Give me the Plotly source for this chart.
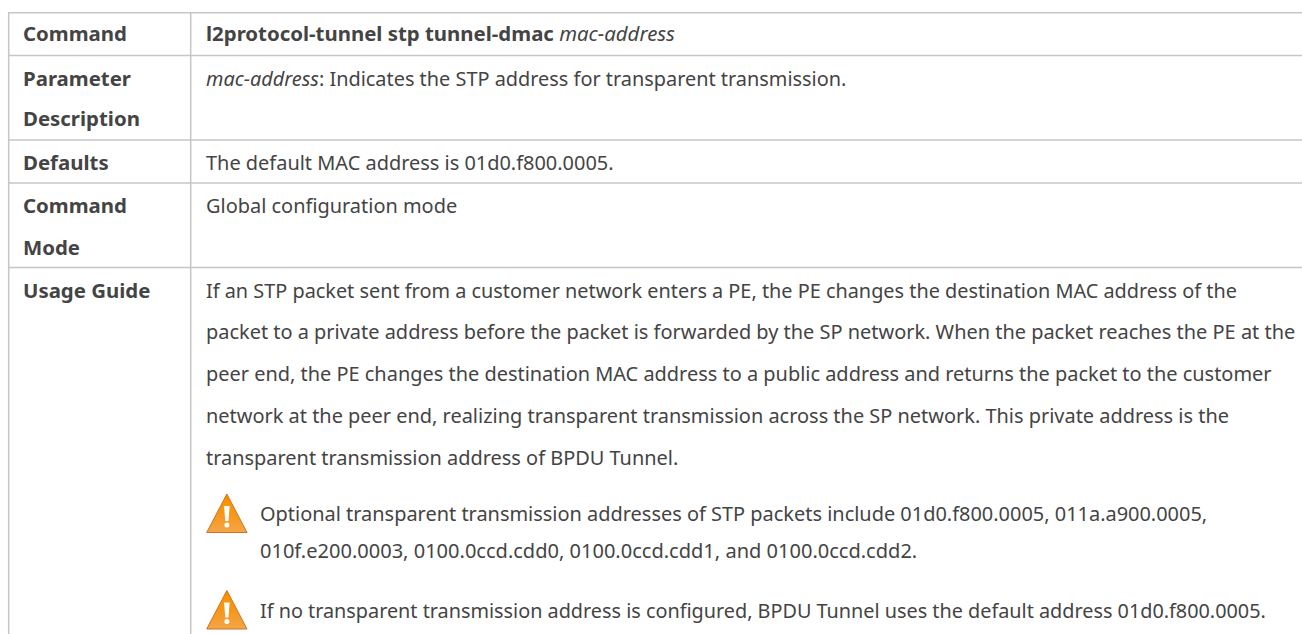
import plotly.graph_objects as go

# ---- content ----
row_labels = ["Command", "Parameter", "Description", "Defaults", "Command", "Mode", "Usage Guide"]
row_label_y = [33, 78, 118, 162, 205, 247, 290]
body_lines = [
    "<b>l2protocol-tunnel stp tunnel-dmac</b> <i>mac-address</i>",
    "<i>mac-address</i>: Indicates the STP address for transparent transmission.",
    "The default MAC address is 01d0.f800.0005.",
    "Global configuration mode",
    "If an STP packet sent from a customer network enters a PE, the PE changes the destination MAC address of the",
    "packet to a private address before the packet is forwarded by the SP network. When the packet reaches the PE at the",
    "peer end, the PE changes the destination MAC address to a public address and returns the packet to the customer",
    "network at the peer end, realizing transparent transmission across the SP network. This private address is the",
    "transparent transmission address of BPDU Tunnel.",
]
body_y = [33, 78, 162, 205, 290, 331, 373, 415, 457]
body_size = [20.4, 19.9, 19.95, 19.95, 19.88, 19.95, 19.95, 19.95, 19.95]
note_lines = [
    "Optional transparent transmission addresses of STP packets include 01d0.f800.0005, 011a.a900.0005,",
    "010f.e200.0003, 0100.0ccd.cdd0, 0100.0ccd.cdd1, and 0100.0ccd.cdd2.",
    "If no transparent transmission address is configured, BPDU Tunnel uses the default address 01d0.f800.0005.",
]
note_y = [513, 550, 610]
note_size = [19.95, 20.05, 19.82]
h_rules = [12.7, 55.4, 140, 183, 267.5]
v_rules = [8.7, 190.7]
icon_tops = [494, 590.5]

FONT = "Noto Sans"
BOLD_SIZE = 20.4
TEXT = "#444444"
RULE = "#c6c6c6"
PAD = 2

fig = go.Figure()
for y in h_rules:
    fig.add_shape(type="line", x0=8, x1=1302, y0=y, y1=y, line=dict(color=RULE, width=1.5), layer="below")
for x in v_rules:
    fig.add_shape(type="line", x0=x, x1=x, y0=12, y1=634, line=dict(color=RULE, width=1.5), layer="below")

for lab, y in zip(row_labels, row_label_y):
    fig.add_annotation(x=23 - PAD, y=y, text=f"<b>{lab}</b>", showarrow=False, xanchor="left", yanchor="middle",
                       font=dict(family=FONT, size=BOLD_SIZE, color=TEXT))
for t, y, s in zip(body_lines, body_y, body_size):
    fig.add_annotation(x=206 - PAD, y=y, text=t, showarrow=False, xanchor="left", yanchor="middle",
                       font=dict(family=FONT, size=s, color=TEXT))
for t, y, s in zip(note_lines, note_y, note_size):
    fig.add_annotation(x=260 - PAD, y=y, text=t, showarrow=False, xanchor="left", yanchor="middle",
                       font=dict(family=FONT, size=s, color=TEXT))

XL, XR, H = 206.7, 247, 38.5
XC = (XL + XR) / 2
for top in icon_tops:
    fig.add_trace(go.Scatter(
        x=[XC, XR, XL, XC], y=[top, top + H, top + H, top],
        mode="lines", fill="toself",
        fillgradient=dict(type="vertical",
                          colorscale=[[0, "#f5a648"], [0.5, "#f59618"], [0.82, "#ff9300"], [1, "#ee8200"]]),
        line=dict(color="#c9742a", width=1), hoverinfo="skip", showlegend=False))
    fig.add_trace(go.Scatter(
        x=[XC - 2.8, XC + 2.8, XC + 1.6, XC - 1.6, XC - 2.8],
        y=[top + 12, top + 12, top + 27, top + 27, top + 12],
        mode="lines", fill="toself", fillcolor="white", line=dict(color="white", width=0),
        hoverinfo="skip", showlegend=False))
    fig.add_trace(go.Scatter(x=[XC], y=[top + 31], mode="markers", marker=dict(color="white", size=5),
                             hoverinfo="skip", showlegend=False))

fig.update_xaxes(range=[0, 1302], visible=False, fixedrange=True)
fig.update_yaxes(range=[634, 0], visible=False, fixedrange=True)
fig.update_layout(width=1302, height=634, margin=dict(l=0, r=0, t=0, b=0),
                  plot_bgcolor="white", paper_bgcolor="white", showlegend=False)
fig.write_html("out.html", config=dict(displayModeBar=False),
               post_script="document.body.style.margin='0';document.body.style.overflow='hidden';")
